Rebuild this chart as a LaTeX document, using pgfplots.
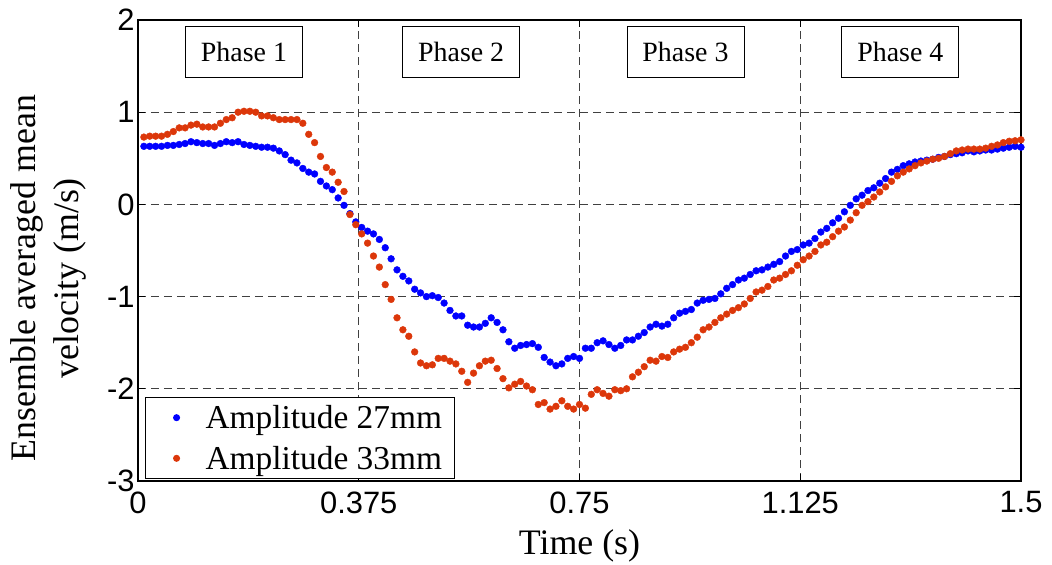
\documentclass[border=0pt]{standalone}
\usepackage{fontspec}
\setmainfont{Liberation Serif}
\newfontfamily\arialfont{Liberation Sans}
\usepackage{pgfplots}
\usepackage{pgfplotstable}
\pgfplotsset{compat=1.18}
\definecolor{myblue}{RGB}{0,0,255}
\definecolor{myred}{RGB}{220,55,10}

\pgfplotstableread{
t b r
0.01 0.63 0.73
0.02 0.63 0.74
0.03 0.63 0.74
0.04 0.63 0.74
0.05 0.64 0.76
0.06 0.64 0.79
0.07 0.65 0.83
0.08 0.66 0.83
0.09 0.68 0.86
0.10 0.67 0.87
0.11 0.66 0.84
0.12 0.66 0.84
0.13 0.64 0.84
0.14 0.66 0.88
0.15 0.68 0.92
0.16 0.67 0.94
0.17 0.68 1.00
0.18 0.65 1.01
0.19 0.64 1.01
0.20 0.63 1.00
0.21 0.62 0.96
0.22 0.62 0.96
0.23 0.61 0.94
0.24 0.58 0.92
0.25 0.54 0.92
0.26 0.48 0.92
0.27 0.45 0.92
0.28 0.39 0.88
0.29 0.35 0.76
0.30 0.33 0.67
0.31 0.25 0.52
0.32 0.20 0.40
0.33 0.16 0.35
0.34 0.07 0.24
0.35 -0.01 0.14
0.36 -0.10 -0.11
0.37 -0.19 -0.22
0.38 -0.25 -0.32
0.39 -0.29 -0.42
0.40 -0.32 -0.56
0.41 -0.38 -0.68
0.42 -0.47 -0.87
0.43 -0.59 -1.03
0.44 -0.71 -1.23
0.45 -0.78 -1.36
0.46 -0.83 -1.43
0.47 -0.92 -1.60
0.48 -0.96 -1.72
0.49 -1.00 -1.75
0.50 -0.99 -1.74
0.51 -1.01 -1.67
0.52 -1.07 -1.67
0.53 -1.15 -1.70
0.54 -1.21 -1.73
0.55 -1.21 -1.81
0.56 -1.31 -1.93
0.57 -1.33 -1.83
0.58 -1.33 -1.75
0.59 -1.29 -1.70
0.60 -1.23 -1.69
0.61 -1.28 -1.78
0.62 -1.36 -1.89
0.63 -1.49 -1.99
0.64 -1.56 -1.95
0.65 -1.53 -1.92
0.66 -1.52 -1.97
0.67 -1.51 -2.01
0.68 -1.55 -2.17
0.69 -1.66 -2.15
0.70 -1.71 -2.22
0.71 -1.75 -2.19
0.72 -1.73 -2.13
0.73 -1.67 -2.19
0.74 -1.65 -2.22
0.75 -1.67 -2.17
0.76 -1.56 -2.21
0.77 -1.56 -2.06
0.78 -1.50 -2.01
0.79 -1.48 -2.05
0.80 -1.52 -2.08
0.81 -1.56 -2.01
0.82 -1.53 -2.02
0.83 -1.47 -2.00
0.84 -1.47 -1.87
0.85 -1.43 -1.82
0.86 -1.39 -1.76
0.87 -1.33 -1.69
0.88 -1.30 -1.70
0.89 -1.32 -1.65
0.90 -1.30 -1.66
0.91 -1.23 -1.60
0.92 -1.18 -1.57
0.93 -1.16 -1.55
0.94 -1.14 -1.50
0.95 -1.07 -1.44
0.96 -1.04 -1.36
0.97 -1.03 -1.33
0.98 -1.02 -1.28
0.99 -0.97 -1.23
1.00 -0.91 -1.19
1.01 -0.87 -1.15
1.02 -0.82 -1.12
1.03 -0.80 -1.08
1.04 -0.76 -1.02
1.05 -0.72 -0.95
1.06 -0.71 -0.93
1.07 -0.68 -0.89
1.08 -0.65 -0.82
1.09 -0.62 -0.80
1.10 -0.56 -0.76
1.11 -0.51 -0.72
1.12 -0.49 -0.66
1.13 -0.44 -0.60
1.14 -0.42 -0.56
1.15 -0.37 -0.51
1.16 -0.30 -0.44
1.17 -0.26 -0.41
1.18 -0.20 -0.35
1.19 -0.15 -0.29
1.20 -0.08 -0.245
1.21 -0.01 -0.17
1.22 0.06 -0.09
1.23 0.10 -0.01
1.24 0.15 0.03
1.25 0.18 0.08
1.26 0.23 0.135
1.27 0.28 0.19
1.28 0.35 0.25
1.29 0.38 0.31
1.30 0.42 0.35
1.31 0.44 0.385
1.32 0.46 0.42
1.33 0.47 0.45
1.34 0.48 0.47
1.35 0.49 0.49
1.36 0.51 0.50
1.37 0.52 0.52
1.38 0.54 0.55
1.39 0.55 0.58
1.40 0.56 0.59
1.41 0.58 0.60
1.42 0.57 0.60
1.43 0.58 0.60
1.44 0.59 0.61
1.45 0.59 0.63
1.46 0.60 0.645
1.47 0.61 0.67
1.48 0.62 0.685
1.49 0.63 0.69
1.50 0.62 0.70
}\datatable

\begin{document}
\begin{tikzpicture}
\begin{axis}[
  at={(0,0)}, anchor=south west,
  scale only axis,
  width=883bp, height=461bp,
  xmin=0, xmax=1.5, ymin=-3, ymax=2,
  xtick={0,0.375,0.75,1.125,1.5},
  xticklabels={0,0.375,0.75,1.125,1.5},
  ytick={-3,-2,-1,0,1,2},
  yticklabels={-3,-2,-1,0,1,2},
  tick align=inside,
  major tick length=7bp,
  tick style={black, line width=0.8bp},
  axis line style={black, line width=1.2bp},
  grid=major,
  major grid style={dash pattern=on 8bp off 5bp, black!75, line width=0.8bp},
  ticklabel style={font=\arialfont\fontsize{31}{31}\selectfont, black},
  xticklabel style={yshift=-7bp},
  xlabel={Time (s)},
  ylabel={Ensemble averaged mean\\velocity (m/s)},
  xlabel style={font=\fontsize{36}{36}\selectfont, at={(axis description cs:0.5,-0.14)}, anchor=center},
  ylabel style={font=\fontsize{36}{43}\selectfont, align=center, at={(axis description cs:-0.101,0.44)}, anchor=center, rotate=0},
  legend cell align=left,
  legend style={at={(axis description cs:0.008,0.004)}, anchor=south west,
    font=\fontsize{33.5}{33.5}\selectfont, draw=black, line width=1bp,
    inner xsep=10bp, inner ysep=5bp, row sep=10bp, fill=white,
    nodes={inner sep=3bp}},
  legend image code/.code={\path[draw=none,fill=none] (0bp,0bp) -- (47bp,0bp); \draw[#1, mark size=3bp] plot[only marks] coordinates {(21bp,0bp)};},
  clip=false,
]
\addplot[only marks, mark=*, color=myblue, mark size=3.4bp, mark options={draw=none, fill=myblue}] table[x=t, y=b] {\datatable};
\addlegendentry{Amplitude 27mm}
\addplot[only marks, mark=*, color=myred, mark size=3.4bp, mark options={draw=none, fill=myred}] table[x=t, y=r] {\datatable};
\addlegendentry{Amplitude 33mm}
\tikzset{phase/.style={draw=black, line width=0.8bp, fill=white, font=\fontsize{28}{28}\selectfont, minimum width=117bp, minimum height=51bp, inner sep=0pt}}
\node[phase] at (axis cs:0.180,1.65) {Phase 1};
\node[phase] at (axis cs:0.549,1.65) {Phase 2};
\node[phase] at (axis cs:0.930,1.65) {Phase 3};
\node[phase] at (axis cs:1.295,1.65) {Phase 4};
\end{axis}
\pgfresetboundingbox
\useasboundingbox (-138bp,-84bp) rectangle (914bp,481bp);
\end{tikzpicture}
\end{document}
